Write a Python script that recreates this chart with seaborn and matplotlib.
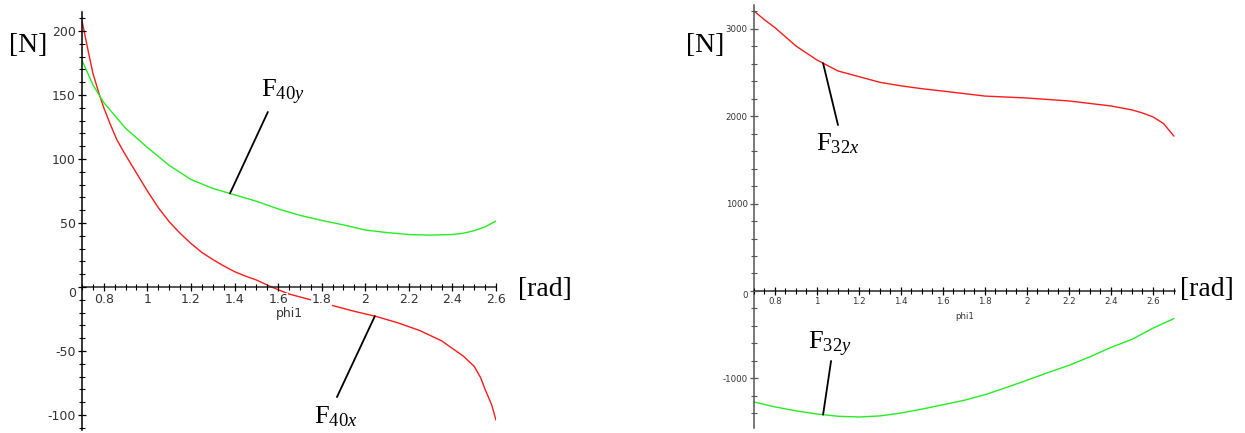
import matplotlib
matplotlib.use('Agg')
import matplotlib.pyplot as plt
from matplotlib.ticker import MultipleLocator, FixedLocator, FixedFormatter
import seaborn as sns
import numpy as np

# F40 forces, left panel
phi_40x = [0.70, 0.73, 0.75, 0.78, 0.80, 0.83, 0.86, 0.90, 0.95, 1.00, 1.05, 1.10, 1.15, 1.20,
           1.25, 1.30, 1.35, 1.40, 1.45, 1.50, 1.57, 1.65, 1.75, 1.85, 1.95, 2.05, 2.15, 2.25,
           2.35, 2.40, 2.45, 2.50, 2.53, 2.55, 2.58, 2.60]
f40x = [208, 183, 167, 150, 140, 127, 115, 103, 89, 75, 62, 51, 42, 34,
        27, 21.5, 16.5, 12, 8.5, 5.5, 0, -5.5, -10, -14.5, -19, -23, -28, -34,
        -42, -48, -54, -62, -71, -80, -92, -104]
phi_40y = [0.70, 0.75, 0.80, 0.90, 1.00, 1.10, 1.20, 1.30, 1.40, 1.50, 1.60, 1.70, 1.80,
           1.90, 2.00, 2.10, 2.20, 2.30, 2.40, 2.45, 2.50, 2.55, 2.60]
f40y = [177, 158, 144, 124, 109, 95, 84, 77, 72, 67, 61, 56, 52,
        48.5, 44.5, 42.5, 41, 40.5, 41, 42, 44, 47, 51.5]

# F32 forces, right panel
phi_32x = [0.70, 0.75, 0.80, 0.90, 1.00, 1.10, 1.20, 1.30, 1.40, 1.50, 1.60, 1.80, 2.00,
           2.20, 2.40, 2.50, 2.55, 2.60, 2.65, 2.70]
f32x = [3200, 3100, 3010, 2800, 2640, 2515, 2450, 2385, 2345, 2312, 2285, 2228, 2206,
        2172, 2115, 2070, 2035, 1990, 1915, 1770]
phi_32y = [0.70, 0.80, 0.90, 1.00, 1.10, 1.20, 1.30, 1.40, 1.50, 1.60, 1.70, 1.80, 1.90,
           2.00, 2.10, 2.20, 2.30, 2.40, 2.50, 2.60, 2.70]
f32y = [-1269, -1325, -1370, -1406, -1432, -1440, -1428, -1395, -1350, -1300, -1250, -1185, -1105,
        -1020, -933, -850, -752, -645, -553, -425, -315]

x_ticks = [0.8, 1.0, 1.2, 1.4, 1.6, 1.8, 2.0, 2.2, 2.4, 2.6]
x_labels = ['0.8', '1', '1.2', '1.4', '1.6', '1.8', '2', '2.2', '2.4', '2.6']
y_ticks_left = [-100, -50, 0, 50, 100, 150, 200]
y_ticks_right = [-1000, 0, 1000, 2000, 3000]

sns.set_style('white')
plt.rcParams['font.family'] = ['DejaVu Sans']
plt.rcParams['axes.unicode_minus'] = False
plt.rcParams['mathtext.fontset'] = 'custom'
plt.rcParams['mathtext.rm'] = 'Liberation Serif'
plt.rcParams['mathtext.it'] = 'Liberation Serif:italic'

RED = '#ff1a1a'
GREEN = '#22ee22'
serif = dict(family='Liberation Serif', color='black')

fig = plt.figure(figsize=(12.45, 4.33), dpi=100)
ax1 = fig.add_axes([82 / 1245, 1 - 430 / 433, 414 / 1245, 418 / 433])
ax2 = fig.add_axes([754 / 1245, 1 - 428 / 433, 421 / 1245, 423 / 433])

sns.lineplot(x=phi_40x, y=f40x, color=RED, linewidth=1.0, ax=ax1)
sns.lineplot(x=phi_40y, y=f40y, color=GREEN, linewidth=1.0, ax=ax1)
sns.lineplot(x=phi_32x, y=f32x, color=RED, linewidth=1.0, ax=ax2)
sns.lineplot(x=phi_32y, y=f32y, color=GREEN, linewidth=1.0, ax=ax2)


def maple_axes(ax, xlim, ylim, yticks, yminor, fs, lab_y, ycol):
    ax.set_xlim(*xlim)
    ax.set_ylim(*ylim)
    ax.set_axisbelow(False)
    for s in ['top', 'right']:
        ax.spines[s].set_visible(False)
    ax.spines['bottom'].set_position(('data', 0))
    ax.spines['bottom'].set_linewidth(1.1)
    ax.spines['left'].set_linewidth(1.1)
    ax.spines['left'].set_color(ycol)
    ax.xaxis.set_major_locator(FixedLocator(x_ticks))
    ax.xaxis.set_major_formatter(FixedFormatter(x_labels))
    ax.xaxis.set_minor_locator(MultipleLocator(0.05))
    ax.yaxis.set_major_locator(FixedLocator(yticks))
    ax.yaxis.set_minor_locator(MultipleLocator(yminor))
    ax.tick_params(which='both', bottom=True, left=True, top=False, right=False)
    ax.tick_params(which='major', direction='inout', length=6, width=0.9,
                   labelsize=fs, labelcolor='#333333', pad=1.5)
    ax.tick_params(which='minor', direction='inout', length=4, width=0.8)
    ax.tick_params(axis='y', which='both', color=ycol)
    ax.tick_params(axis='x', which='both', color='black')
    for lab in ax.get_xticklabels():
        lab.set_bbox(dict(facecolor='white', edgecolor='none', pad=0.4))
    for t, v in zip(ax.yaxis.get_major_ticks(), yticks):
        if v == 0:
            t.label1.set_verticalalignment('top')
    ax.set_xlabel('phi1', fontsize=fs, color='#333333')
    ax.xaxis.set_label_coords(0.5, lab_y)
    ax.set_ylabel('')


maple_axes(ax1, (0.7, 2.6), (-111.7, 214.8), y_ticks_left, 10, 9, 0.294, 'black')
maple_axes(ax2, (0.7, 2.705), (-1566, 3269), y_ticks_right, 200, 6.2, 0.274, '#555555')


def label_curve(ax, phi, vals, at, start, text, text_pos):
    end = (at, np.interp(at, phi, vals))
    ax.annotate('', xy=end, xytext=start,
                arrowprops=dict(arrowstyle='-', color='black', lw=1.3, shrinkA=0, shrinkB=0))
    ax.text(text_pos[0], text_pos[1], text, fontsize=19, ha='center', va='center', **serif)


label_curve(ax1, phi_40y, f40y, 1.379, (1.553, 136.7), r'F$_{40y}$', (1.622, 152))
label_curve(ax1, phi_40x, f40x, 2.044, (1.87, -86), r'F$_{40x}$', (1.865, -101))
label_curve(ax2, phi_32x, f32x, 1.029, (1.10, 1897), r'F$_{32x}$', (1.10, 1680))
label_curve(ax2, phi_32y, f32y, 1.029, (1.067, -800), r'F$_{32y}$', (1.062, -606))

for px, py, txt in [(28, 46, '[N]'), (545, 290, '[rad]'), (705, 46, '[N]'), (1207, 290, '[rad]')]:
    fig.text(px / 1245, 1 - py / 433, txt, fontsize=20, ha='center', va='center', **serif)

fig.savefig('out.png', dpi=100)
